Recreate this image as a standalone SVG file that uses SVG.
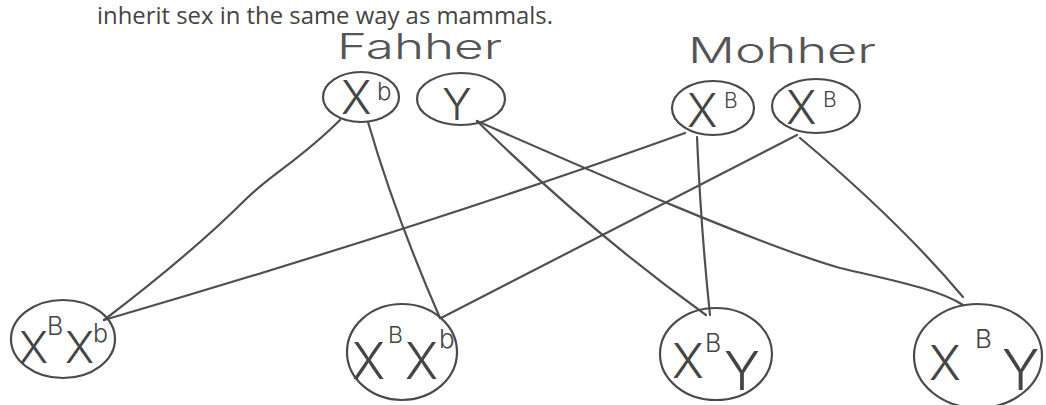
<svg xmlns="http://www.w3.org/2000/svg" width="1046" height="405" viewBox="0 0 1046 405">
<style>
.n{fill:none;stroke:#4a4a4a;stroke-width:2.2}
.c{fill:none;stroke:#505050;stroke-width:2.2;stroke-linecap:round}
.t{font-family:Inter,"DejaVu Sans",sans-serif;font-weight:300;fill:#454545}
.h{font-family:Inter,"DejaVu Sans",sans-serif;font-weight:300;fill:#555;font-size:35px}
</style>
<rect width="1046" height="405" fill="#fff"/>
<text x="97" y="24" font-family="'Open Sans',sans-serif" font-size="24" fill="#444" textLength="456" lengthAdjust="spacingAndGlyphs">inherit sex in the same way as mammals.</text>
<text class="h" x="337" y="59" textLength="165" lengthAdjust="spacingAndGlyphs">Fahher</text>
<text class="h" x="688" y="63" textLength="188" lengthAdjust="spacingAndGlyphs">Mohher</text>
<g id="connectors">
<path class="c" d="M340,120 C300,160 270,175 245,200 C200,245 150,285 104,320"/>
<path class="c" d="M368,122 Q395,215 440,318"/>
<path class="c" d="M685,133 Q420,228 104,320"/>
<path class="c" d="M797,135 Q640,215 441,318"/>
<path class="c" d="M697,137 Q701,230 710,315"/>
<path class="c" d="M800,138 Q900,222 963,297"/>
<path class="c" d="M477,121 Q590,232 706,315"/>
<path class="c" d="M477,121 C600,175 760,245 840,268 C900,282 940,290 963,305"/>
</g>
<g id="father-Xb">
<ellipse class="n" cx="361" cy="97" rx="38" ry="25"/>
<text class="t"><tspan x="341" y="114" font-size="46">X</tspan><tspan x="377" y="100" font-size="24">b</tspan></text>
</g>
<g id="father-Y">
<ellipse class="n" cx="461" cy="99" rx="44" ry="26"/>
<text class="t" x="457" y="120" font-size="44" text-anchor="middle">Y</text>
</g>
<g id="mother-XB1">
<ellipse class="n" cx="713" cy="108" rx="41" ry="27"/>
<text class="t"><tspan x="687" y="127" font-size="46">X</tspan><tspan x="724" y="108" font-size="21">B</tspan></text>
</g>
<g id="mother-XB2">
<ellipse class="n" cx="816" cy="106" rx="44" ry="27"/>
<text class="t"><tspan x="786" y="124" font-size="46">X</tspan><tspan x="823" y="107" font-size="21">B</tspan></text>
</g>
<g id="child-XBXb-1">
<ellipse class="n" cx="63" cy="339" rx="52" ry="39"/>
<text class="t"><tspan x="19" y="363" font-size="44">X</tspan><tspan x="47" y="335" font-size="25">B</tspan><tspan x="65" y="363" font-size="44">X</tspan><tspan x="93" y="342" font-size="25">b</tspan></text>
</g>
<g id="child-XBXb-2">
<ellipse class="n" cx="402" cy="352" rx="55" ry="48"/>
<text class="t"><tspan x="352" y="379" font-size="50">X</tspan><tspan x="388" y="343" font-size="23">B</tspan><tspan x="405" y="379" font-size="50">X</tspan><tspan x="439" y="348" font-size="26">b</tspan></text>
</g>
<g id="child-XBY-1">
<ellipse class="n" cx="716" cy="354" rx="56" ry="46"/>
<text class="t"><tspan x="672" y="378" font-size="48">X</tspan><tspan x="705" y="352" font-size="25">B</tspan><tspan x="724" y="390" font-size="54">Y</tspan></text>
</g>
<g id="child-XBY-2">
<ellipse class="n" cx="978" cy="356" rx="64" ry="52"/>
<text class="t"><tspan x="929" y="380" font-size="48">X</tspan><tspan x="975" y="348" font-size="26">B</tspan><tspan x="1002" y="390" font-size="56">Y</tspan></text>
</g>
</svg>
